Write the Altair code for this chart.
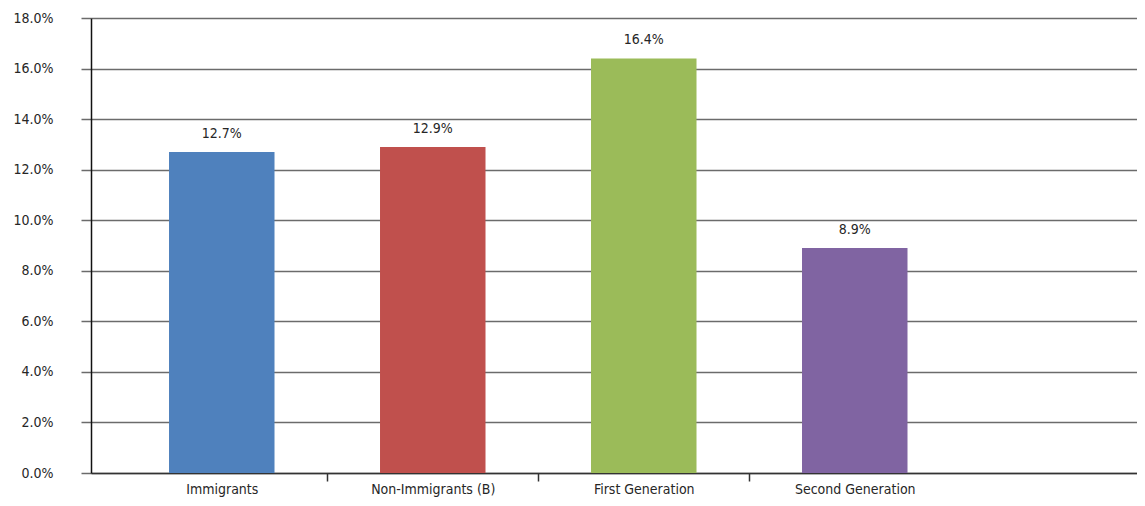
import altair as alt
import pandas as pd

categories = ["Immigrants", "Non-Immigrants (B)", "First Generation", "Second Generation"]
shares = [0.127, 0.129, 0.164, 0.089]
bar_colors = ["#4F81BD", "#C0504D", "#9BBB59", "#8064A2"]
y_ticks = [0.0, 0.02, 0.04, 0.06, 0.08, 0.10, 0.12, 0.14, 0.16, 0.18]

df = pd.DataFrame({"group": categories, "share": shares})

FONT = "DejaVu Sans Condensed, Liberation Sans Narrow, DejaVu Sans, sans-serif"
STEP = 211  # band step in px for a 1046px wide plot

x_enc = alt.X(
    "group:N",
    sort=categories,
    title=None,
    scale=alt.Scale(paddingInner=0.5, paddingOuter=0.7287, align=0.2537),
    axis=alt.Axis(
        labelAngle=0,
        labelFont=FONT,
        labelFontSize=14,
        labelColor="#262626",
        labelPadding=1,
        labelOffset=-STEP / 2,
        tickSize=8,
        tickColor="#333333",
        tickWidth=1.5,
        tickOffset=STEP / 2,
        tickOpacity={
            "condition": {"test": "datum.value == 'Second Generation'", "value": 0},
            "value": 1,
        },
        domainColor="#333333",
        domainWidth=1.5,
        grid=False,
    ),
)

y_enc = alt.Y(
    "share:Q",
    title=None,
    scale=alt.Scale(domain=[0, 0.18], nice=False),
    axis=alt.Axis(
        values=y_ticks,
        format=".1%",
        labelFont=FONT,
        labelFontSize=14,
        labelColor="#262626",
        labelPadding=28,
        tickSize=10,
        tickColor="#6b6b6b",
        tickWidth=1.5,
        gridColor="#6b6b6b",
        gridWidth=1.5,
        domainColor="#111111",
        domainWidth=1.5,
    ),
)

base = alt.Chart(df).encode(x=x_enc, y=y_enc)

bars = base.mark_bar().encode(
    color=alt.Color(
        "group:N",
        scale=alt.Scale(domain=categories, range=bar_colors),
        legend=None,
    )
)

labels = base.mark_text(
    baseline="bottom", dy=-11, font=FONT, fontSize=14, color="#262626"
).encode(text=alt.Text("share:Q", format=".1%"))

chart = (
    alt.layer(bars, labels)
    .properties(
        width=1046,
        height=455,
        autosize=alt.AutoSizeParams(type="none"),
        padding={"left": 83, "top": 10, "right": 0, "bottom": 25},
    )
    .configure_view(stroke=None)
)

chart.save("out.html", embed_options={"renderer": "svg", "actions": False})
